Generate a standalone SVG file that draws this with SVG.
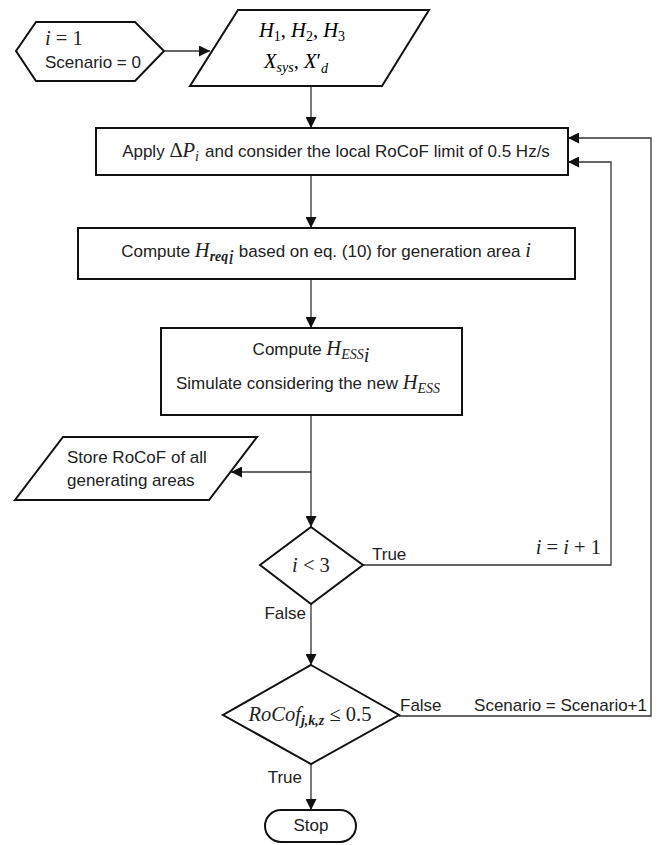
<svg xmlns="http://www.w3.org/2000/svg" width="662" height="845" viewBox="0 0 662 845">
<style>
.s{fill:#fff;stroke:#111;stroke-width:2}
.c{fill:none;stroke:#333;stroke-width:1.3}
.t{font-family:"Liberation Sans",Arial,sans-serif;font-size:17px;fill:#222}
.m{font-family:"Liberation Serif","Times New Roman",serif;font-style:italic;font-size:20.5px}
.u{font-family:"Liberation Serif","Times New Roman",serif;font-style:normal;font-size:20.5px}
.sb{font-size:14px}
.b{font-weight:bold}
</style>
<defs>
<marker id="ah" viewBox="0 0 10 10" refX="10" refY="5" markerWidth="11" markerHeight="11" markerUnits="userSpaceOnUse" orient="auto">
<path d="M0,0 L10,5 L0,10 z" fill="#111"/>
</marker>
</defs>
<rect width="662" height="845" fill="#fff"/>
<g id="connectors">
<path class="c" d="M164,51 H210" marker-end="url(#ah)"/>
<path class="c" d="M311,86 V128" marker-end="url(#ah)"/>
<path class="c" d="M311,175 V228" marker-end="url(#ah)"/>
<path class="c" d="M311,279 V328" marker-end="url(#ah)"/>
<path class="c" d="M311,415 V527" marker-end="url(#ah)"/>
<path class="c" d="M311,472 H231" marker-end="url(#ah)"/>
<path class="c" d="M311,604 V665" marker-end="url(#ah)"/>
<path class="c" d="M363,565 H611 V162 H568" marker-end="url(#ah)"/>
<path class="c" d="M399,716 H651 V138 H568" marker-end="url(#ah)"/>
<path class="c" d="M311,764 V810" marker-end="url(#ah)"/>
<text class="t" x="372" y="560">True</text>
<text class="t" x="601" y="554" text-anchor="end"><tspan class="m">i</tspan><tspan class="u"> = </tspan><tspan class="m">i</tspan><tspan class="u"> + 1</tspan></text>
<text class="t" x="306" y="619" text-anchor="end">False</text>
<text class="t" x="400" y="711">False</text>
<text class="t" x="647" y="711" text-anchor="end">Scenario = Scenario+1</text>
<text class="t" x="302" y="783" text-anchor="end">True</text>
</g>
<g id="start">
<polygon class="s" points="16,51 36,22 135,22 164,51 135,81 36,81"/>
<text class="t" x="45" y="45"><tspan class="m">i</tspan><tspan class="u"> = 1</tspan></text>
<text class="t" x="45" y="68">Scenario = 0</text>
</g>
<g id="input">
<polygon class="s" points="238,10 429,10 382,86 190,86"/>
<text class="m" x="302" y="37" text-anchor="middle">H<tspan class="sb u" dy="4">1</tspan><tspan class="u" dy="-4">, </tspan>H<tspan class="sb u" dy="4">2</tspan><tspan class="u" dy="-4">, </tspan>H<tspan class="sb u" dy="4">3</tspan></text>
<text class="m" x="296" y="68" text-anchor="middle">X<tspan class="sb" dy="4">sys</tspan><tspan class="u" dy="-4">, </tspan>X<tspan class="u">′</tspan><tspan class="sb" dy="5">d</tspan></text>
</g>
<g id="apply">
<rect class="s" x="96" y="128" width="472" height="47"/>
<text class="t" x="336" y="157" text-anchor="middle">Apply <tspan class="u">Δ</tspan><tspan class="m">P</tspan><tspan class="m sb" dy="4">i</tspan><tspan dy="-4" dx="6">and consider the local RoCoF limit of 0.5 Hz/s</tspan></text>
</g>
<g id="compute-hreq">
<rect class="s" x="78" y="228" width="497" height="51"/>
<text class="t" x="326" y="257" text-anchor="middle">Compute <tspan class="m">H</tspan><tspan class="m sb b" dy="4">req</tspan><tspan class="m" font-size="10" dy="3">i</tspan><tspan dy="-7"> based on eq. (10) for generation area </tspan><tspan class="m">i</tspan></text>
</g>
<g id="compute-hess">
<rect class="s" x="161" y="328" width="301" height="87"/>
<text class="t" x="311" y="355" text-anchor="middle">Compute <tspan class="m">H</tspan><tspan class="m sb" dy="4">ESS</tspan><tspan class="m" font-size="10" dy="3">i</tspan></text>
<text class="t" x="308" y="389" text-anchor="middle">Simulate considering the new <tspan class="m">H</tspan><tspan class="m sb" dy="4">ESS</tspan></text>
</g>
<g id="store">
<polygon class="s" points="63,437 257,437 209,500 15,500"/>
<text class="t" x="67" y="463">Store RoCoF of all</text>
<text class="t" x="67" y="486">generating areas</text>
</g>
<g id="decision-i">
<polygon class="s" points="311,527 363,565 311,604 260,565"/>
<text class="t" x="311" y="572" text-anchor="middle"><tspan class="m">i</tspan><tspan class="u"> &lt; 3</tspan></text>
</g>
<g id="decision-rocof">
<polygon class="s" points="311,665 399,715 311,764 223,715"/>
<text class="t" x="310" y="721" text-anchor="middle"><tspan class="m">RoCof</tspan><tspan class="m sb b" dy="4">j,k,z</tspan><tspan class="u" dy="-4"> ≤ 0.5</tspan></text>
</g>
<g id="stop">
<rect class="s" x="265" y="810" width="91" height="32" rx="16"/>
<text class="t" x="311" y="831" text-anchor="middle">Stop</text>
</g>
</svg>
